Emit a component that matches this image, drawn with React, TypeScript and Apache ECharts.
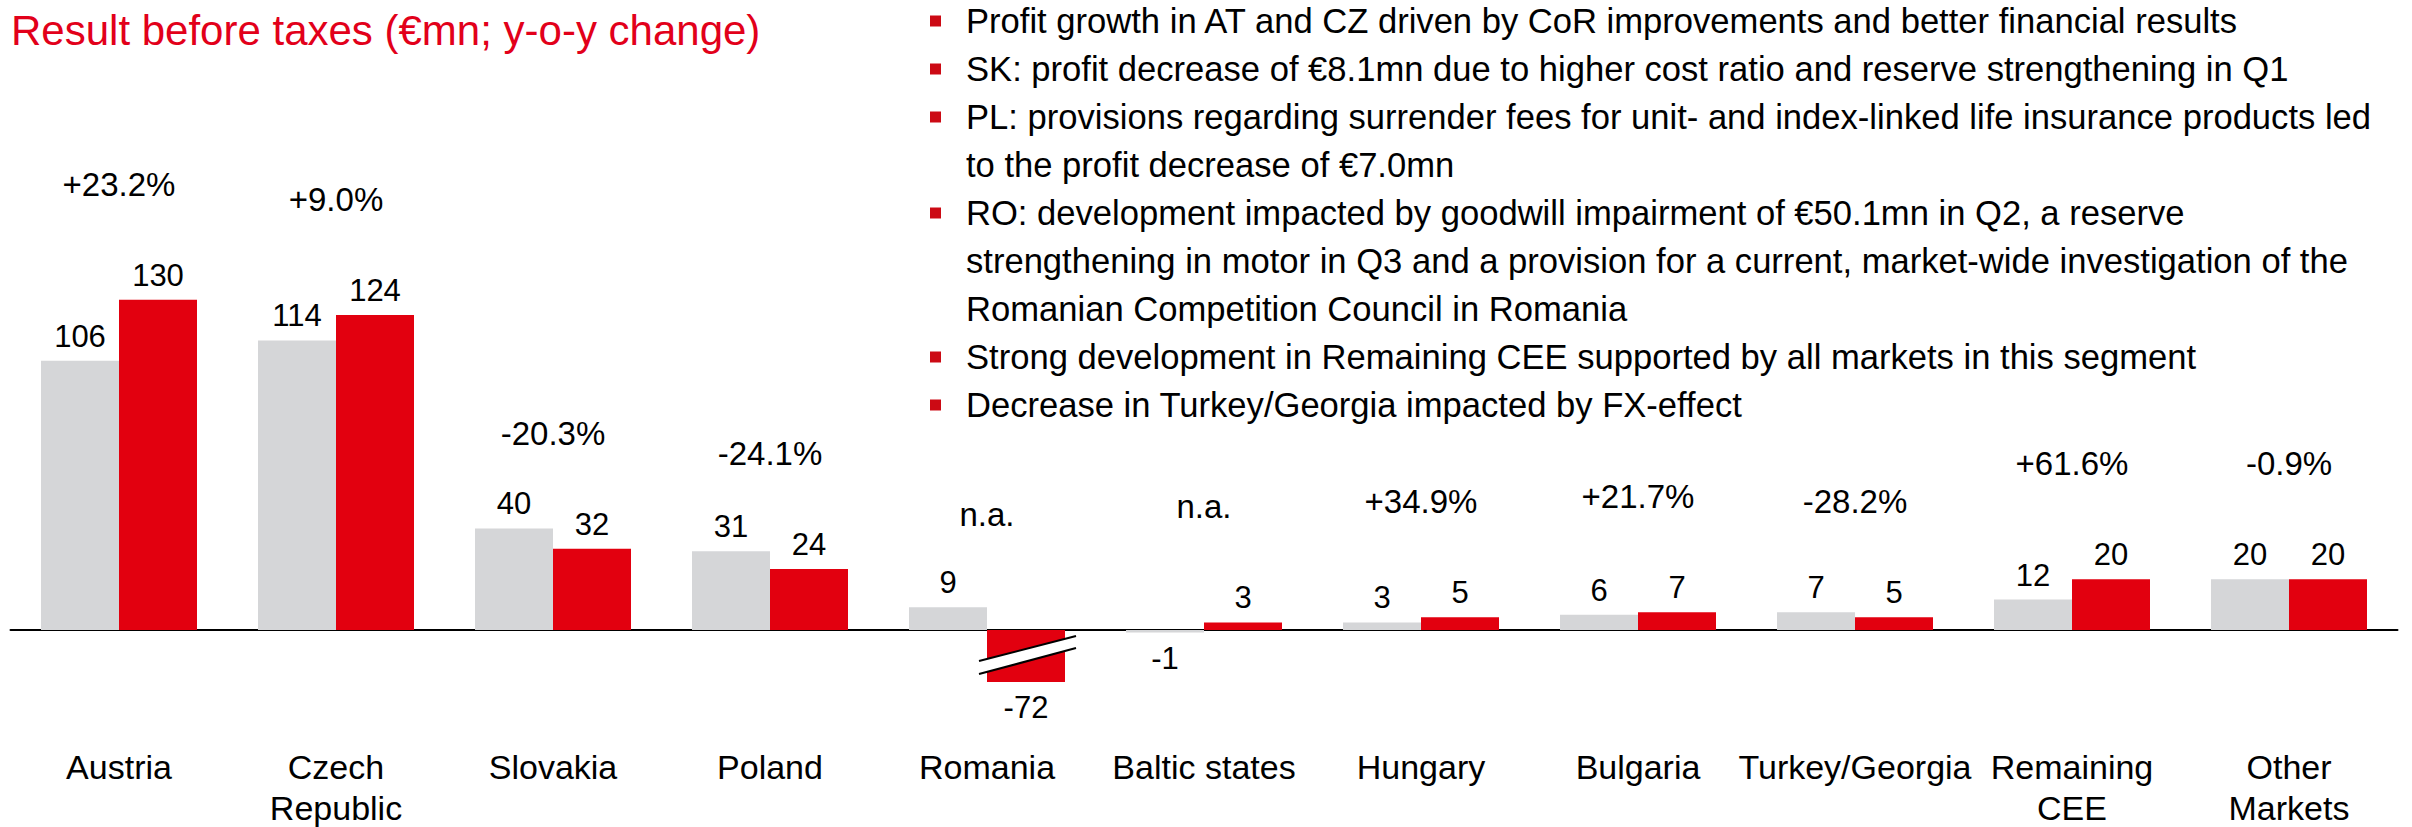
import React, { useEffect, useRef } from "react";
import * as echarts from "echarts";

const TITLE = "Result before taxes (€mn; y-o-y change)";

const categories = [
  "Austria",
  "Czech\nRepublic",
  "Slovakia",
  "Poland",
  "Romania",
  "Baltic states",
  "Hungary",
  "Bulgaria",
  "Turkey/Georgia",
  "Remaining\nCEE",
  "Other\nMarkets",
];

const previousYear = [106, 114, 40, 31, 9, -1, 3, 6, 7, 12, 20];
const currentYear = [130, 124, 32, 24, -72, 3, 5, 7, 5, 20, 20];

const changes = [
  "+23.2%",
  "+9.0%",
  "-20.3%",
  "-24.1%",
  "n.a.",
  "n.a.",
  "+34.9%",
  "+21.7%",
  "-28.2%",
  "+61.6%",
  "-0.9%",
];

const bullets = [
  ["Profit growth in AT and CZ driven by CoR improvements and better financial results"],
  ["SK: profit decrease of €8.1mn due to higher cost ratio and reserve strengthening in Q1"],
  [
    "PL: provisions regarding surrender fees for unit- and index-linked life insurance products led",
    "to the profit decrease of €7.0mn",
  ],
  [
    "RO: development impacted by goodwill impairment of €50.1mn in Q2, a reserve",
    "strengthening in motor in Q3 and a provision for a current, market-wide investigation of the",
    "Romanian Competition Council in Romania",
  ],
  ["Strong development in Remaining CEE supported by all markets in this segment"],
  ["Decrease in Turkey/Georgia impacted by FX-effect"],
];

const FONT = "'Liberation Sans', Arial, Helvetica, sans-serif";
const RED = "#E2000F";
const GREY = "#D5D6D8";
const BREAK_AT = -20.5; // axis break: bars below this are drawn truncated

export default function App() {
  const ref = useRef<HTMLDivElement>(null);

  useEffect(() => {
    if (!ref.current) return;
    const chart = echarts.init(ref.current, null, { renderer: "svg" });

    const barData = (vals: number[]) =>
      vals.map((v) => ({
        value: Math.max(v, BREAK_AT),
        actual: v,
        label: { position: v < 0 ? "bottom" : "top", distance: v < 0 ? 10 : 9 },
      }));

    const valueLabel = {
      show: true,
      fontSize: 31,
      color: "#000",
      fontFamily: FONT,
      formatter: (p: any) => String(p.data.actual),
    };

    // bullet text block
    const bulletGraphics: any[] = [];
    let lineIdx = 0;
    const firstCenter = 21;
    const lineStep = 48;
    bullets.forEach((lines) => {
      const cy = firstCenter + lineStep * lineIdx;
      bulletGraphics.push({
        type: "rect",
        shape: { x: 930, y: cy - 5.5, width: 11, height: 11 },
        style: { fill: "#CC0A14" },
        z: 100,
      });
      lines.forEach((ln) => {
        const y = firstCenter + lineStep * lineIdx;
        bulletGraphics.push({
          type: "text",
          x: 966,
          y,
          style: {
            text: ln,
            font: `34.6px ${FONT}`,
            fill: "#000",
            textAlign: "left",
            textVerticalAlign: "middle",
            verticalAlign: "middle",
          },
          z: 100,
        });
        lineIdx++;
      });
    });

    chart.setOption({
      animation: false,
      title: {
        text: TITLE,
        left: 6,
        top: 4,
        textStyle: { color: "#E2001A", fontSize: 42, fontWeight: "normal", fontFamily: FONT },
      },
      grid: {
        left: 10.5,
        right: 14.5,
        top: 71.2,
        bottom: 95.4,
        containLabel: false,
        outerBoundsMode: "none",
      },
      xAxis: [
        {
          type: "category",
          data: categories,
          axisTick: { show: false },
          axisLine: { onZero: true, lineStyle: { color: "#000", width: 2 } },
          axisLabel: { show: false },
        },
        {
          type: "category",
          data: categories,
          position: "bottom",
          axisTick: { show: false },
          axisLine: { show: false, onZero: false },
          axisLabel: {
            interval: 0,
            fontSize: 34,
            lineHeight: 41,
            color: "#000",
            fontFamily: FONT,
            margin: 15,
          },
        },
      ],
      yAxis: { type: "value", min: -40, max: 220, show: false },
      series: [
        {
          type: "bar",
          name: "Previous year",
          data: barData(previousYear),
          barWidth: 78,
          barGap: "0%",
          itemStyle: { color: GREY },
          label: valueLabel,
        },
        {
          type: "bar",
          name: "Current year",
          data: barData(currentYear),
          barWidth: 78,
          barGap: "0%",
          itemStyle: { color: RED },
          label: valueLabel,
        },
        {
          type: "scatter",
          data: currentYear.map((v) => Math.max(v, 0)),
          symbolSize: 0,
          silent: true,
          clip: false,
          itemStyle: { opacity: 1 },
          label: {
            show: true,
            position: "top",
            distance: 99,
            fontSize: 33,
            color: "#000",
            opacity: 1,
            fontFamily: FONT,
            formatter: (p: any) => changes[p.dataIndex],
          },
        },
      ],
      graphic: bulletGraphics,
    });

    // axis-break marks on truncated bars
    const breakGraphics: any[] = [];
    try {
      const data = (chart as any).getModel().getSeriesByIndex(1).getData();
      currentYear.forEach((v, i) => {
        if (v >= BREAK_AT) return;
        const l = data.getItemLayout(i);
        const left = Math.min(l.x, l.x + l.width);
        const right = Math.max(l.x, l.x + l.width);
        const bottom = Math.max(l.y, l.y + l.height);
        const x1 = left - 8;
        const x2 = right + 11;
        const u1 = bottom - 21, u2 = bottom - 46;
        const d1 = bottom - 8, d2 = bottom - 34;
        breakGraphics.push(
          {
            type: "polygon",
            shape: { points: [[x1, u1], [x2, u2], [x2, d2], [x1, d1]] },
            style: { fill: "#fff" },
            z: 100,
          },
          {
            type: "line",
            shape: { x1, y1: u1, x2, y2: u2 },
            style: { stroke: "#000", lineWidth: 2 },
            z: 101,
          },
          {
            type: "line",
            shape: { x1, y1: d1, x2, y2: d2 },
            style: { stroke: "#000", lineWidth: 2 },
            z: 101,
          }
        );
      });
    } catch (e) {
      // ignore
    }
    if (breakGraphics.length) {
      chart.setOption({ graphic: [...bulletGraphics, ...breakGraphics] });
    }

    return () => chart.dispose();
  }, []);

  return (
    <div
      ref={ref}
      style={{ position: "absolute", left: 0, top: 0, width: 2412, height: 827, background: "#fff" }}
    />
  );
}
